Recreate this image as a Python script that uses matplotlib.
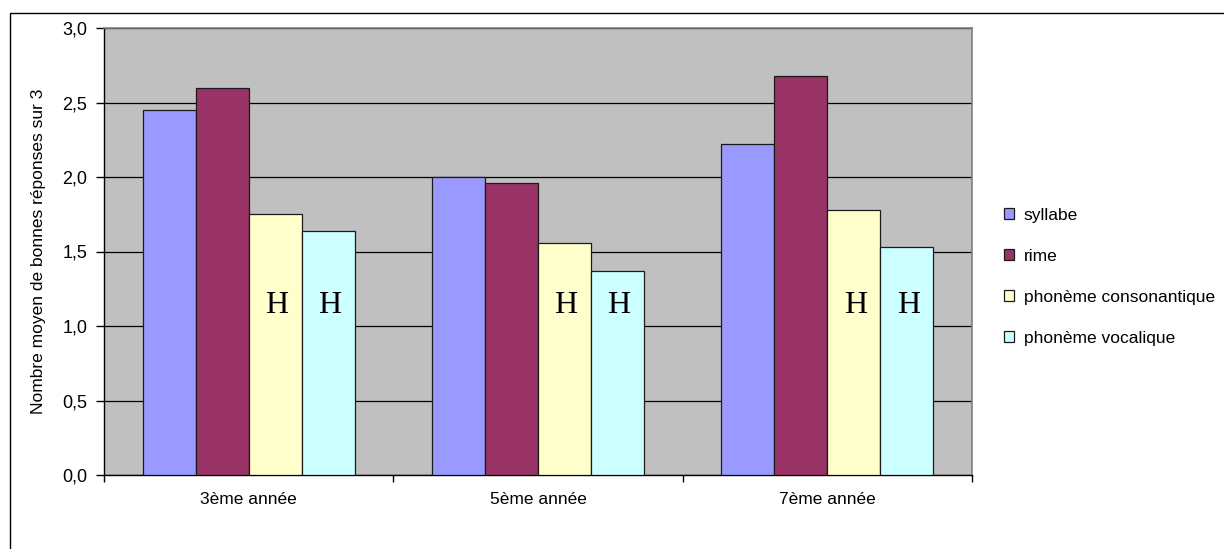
import matplotlib
matplotlib.use("Agg")
import matplotlib.pyplot as plt
from matplotlib.patches import Rectangle
from matplotlib.ticker import FuncFormatter, FixedLocator
import numpy as np

plt.rcParams['font.family'] = ['Liberation Sans', 'DejaVu Sans']

# Data
categories = ['3ème année', '5ème année', '7ème année']
series_names = ['syllabe', 'rime', 'phonème consonantique', 'phonème vocalique']
syllabe = [2.45, 2.00, 2.22]
rime = [2.60, 1.96, 2.68]
consonantique = [1.75, 1.56, 1.78]
vocalique = [1.64, 1.37, 1.53]
series_values = [syllabe, rime, consonantique, vocalique]
colors = ['#9999FF', '#993366', '#FFFFCC', '#CCFFFF']
# series marked with an "H" inside the bar
marked = ['phonème consonantique', 'phonème vocalique']

fig = plt.figure(figsize=(12.24, 5.49), dpi=100)
# outer chart border (only left/top visible in the reference)
fig.patches.append(Rectangle((10 / 1224, -0.05), 1.2, 1 - 13 / 549 + 0.05,
                             transform=fig.transFigure, fill=False,
                             edgecolor='black', linewidth=1.0))

ax = fig.add_axes([104 / 1224, 1 - 475 / 549, (972 - 104) / 1224, (475 - 28) / 549])
ax.set_facecolor('#C0C0C0')

x = np.arange(len(categories))
width = 0.183
for i, (name, vals, col) in enumerate(zip(series_names, series_values, colors)):
    pos = x + (i - 1.5) * width
    ax.bar(pos, vals, width, color=col, edgecolor='#1a1a1a', linewidth=0.9,
           label=name, zorder=3)
    if name in marked:
        for p in pos:
            ax.text(p + 0.005, 1.09, 'H', ha='center', va='baseline', fontsize=23,
                    family='Liberation Serif', zorder=4)

ax.set_xlim(-0.5, len(categories) - 0.5)
ax.set_ylim(0, 3.0)
ax.set_yticks(np.arange(0, 3.01, 0.5))
ax.yaxis.set_major_formatter(FuncFormatter(lambda v, _: f"{v:.1f}".replace('.', ',')))
ax.yaxis.grid(True, color='black', linewidth=0.9, zorder=1)
ax.set_axisbelow(True)

ax.xaxis.set_major_locator(FixedLocator(np.arange(-0.5, len(categories), 1.0)))
ax.set_xticklabels([])
ax.set_xticks(x, minor=True)
ax.set_xticklabels(categories, minor=True)
ax.tick_params(axis='x', which='minor', length=0, pad=12, labelsize=12.5)
ax.tick_params(axis='x', which='major', length=5, width=1, direction='out')
ax.tick_params(axis='y', length=6, width=1, direction='out', pad=6, labelsize=13)

for side in ['top', 'right']:
    ax.spines[side].set_color('#808080')
    ax.spines[side].set_linewidth(1.2)
for side in ['left', 'bottom']:
    ax.spines[side].set_color('black')
    ax.spines[side].set_linewidth(1.0)

ax.set_ylabel('Nombre moyen de bonnes réponses sur 3', fontsize=12.5, labelpad=12)

fig.legend(loc='center left', bbox_to_anchor=(997 / 1224, 1 - 277 / 549),
           frameon=False, fontsize=12.5, handlelength=0.6, handleheight=0.6,
           handletextpad=0.55, labelspacing=1.5, borderaxespad=0)

fig.savefig('out.png', dpi=100)
